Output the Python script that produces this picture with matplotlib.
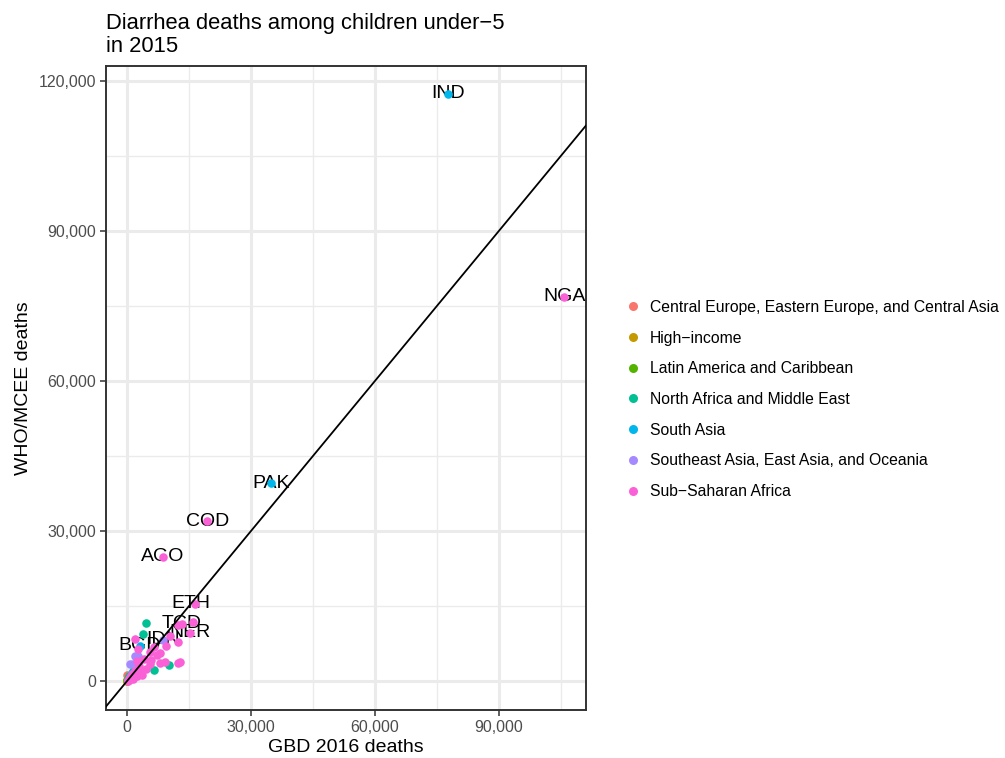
import matplotlib
matplotlib.use("Agg")
import matplotlib.pyplot as plt
from matplotlib.ticker import FuncFormatter, MultipleLocator
from matplotlib.lines import Line2D

plt.rcParams["font.family"] = ["Liberation Sans", "DejaVu Sans"]

regions = [
    "Central Europe, Eastern Europe, and Central Asia",
    "High\u2212income",
    "Latin America and Caribbean",
    "North Africa and Middle East",
    "South Asia",
    "Southeast Asia, East Asia, and Oceania",
    "Sub\u2212Saharan Africa",
]
region_colors = ["#F8766D", "#C49A00", "#53B400", "#00C094", "#00B6EB", "#A58AFF", "#FB61D7"]

# deaths in thousands: GBD 2016 (x) and WHO/MCEE (y), one list per region
ceeca_gbd = [0.0, 0.2, 0.1, 0.4]
ceeca_who = [1.3, 0.5, 0.2, 0.9]

highinc_gbd = [0.0, 0.05]
highinc_who = [0.0, 0.02]

latam_gbd = [0.3, 0.5, 0.1, 0.8]
latam_who = [0.4, 0.9, 0.2, 0.6]

nafme_gbd = [4.6, 3.8, 10.2, 6.6, 0.5, 1.5, 0.2]
nafme_who = [11.7, 9.5, 3.3, 2.3, 1.0, 2.0, 0.3]

sasia_gbd = [77.8, 34.8, 3.1, 0.6, 1.1]
sasia_who = [117.5, 39.6, 7.0, 0.8, 1.6]

seaeao_gbd = [8.8, 1.9, 1.5, 2.6, 0.8, 1.0, 0.3]
seaeao_who = [8.3, 5.0, 3.4, 5.0, 3.4, 0.6, 0.2]

ssa_gbd = [105.8, 19.4, 8.6, 16.4, 13.2, 15.2,
           12.4, 16.0, 12.4, 1.9, 2.7, 5.6, 8.0, 5.8, 8.0, 12.4, 7.2, 5.6,
           3.6, 0.7, 3.0, 2.0, 1.2, 0.5, 0.2, 4.5, 2.5, 1.5, 4.0, 6.5,
           10.5, 9.5, 9.2, 12.8, 2.3, 3.3]
ssa_who = [76.9, 32.0, 24.9, 15.5, 11.5, 9.7,
           11.2, 11.9, 7.9, 8.5, 6.5, 5.9, 5.6, 4.2, 3.7, 3.7, 5.2, 3.4,
           1.2, 0.9, 3.0, 2.0, 1.5, 0.3, 0.1, 2.5, 4.0, 0.5, 4.5, 6.8,
           9.0, 7.0, 3.9, 3.9, 1.0, 2.0]

region_gbd = [ceeca_gbd, highinc_gbd, latam_gbd, nafme_gbd, sasia_gbd, seaeao_gbd, ssa_gbd]
region_who = [ceeca_who, highinc_who, latam_who, nafme_who, sasia_who, seaeao_who, ssa_who]

# labelled countries
label_codes = ["IND", "NGA", "PAK", "COD", "AGO", "ETH", "TCD", "NER", "IDN", "BGD"]
label_gbd = [77.8, 105.8, 34.8, 19.4, 8.6, 15.4, 13.2, 15.2, 8.8, 3.1]
label_who = [117.5, 76.9, 39.6, 32.0, 24.9, 15.5, 11.5, 9.7, 8.3, 7.0]

x_ticks = [0, 30000, 60000, 90000]
y_ticks = [0, 30000, 60000, 90000, 120000]

fig = plt.figure(figsize=(10.05, 7.58), dpi=100)
ax = fig.add_axes([106 / 1005, 48 / 758, 480 / 1005, 644 / 758])
ax.set_facecolor("white")

for name, col, gx, gy in zip(regions, region_colors, region_gbd, region_who):
    ax.scatter([v * 1000 for v in gx], [v * 1000 for v in gy], s=38, color=col,
               linewidths=0, zorder=3, label=name)

for code, gx, gy in zip(label_codes, label_gbd, label_who):
    ax.text(gx * 1000, gy * 1000, code, ha="center", va="center",
            fontsize=14, color="black", zorder=2.5)

ax.axline((0, 0), slope=1, color="black", lw=1.3, zorder=4)

ax.set_xlim(-5100, 111100)
ax.set_ylim(-5800, 123000)
ax.set_xticks(x_ticks)
ax.set_yticks(y_ticks)
ax.xaxis.set_minor_locator(MultipleLocator(15000))
ax.yaxis.set_minor_locator(MultipleLocator(15000))
fmt = FuncFormatter(lambda v, p: f"{int(v):,}")
ax.xaxis.set_major_formatter(fmt)
ax.yaxis.set_major_formatter(fmt)

ax.grid(True, which="major", color="#EBEBEB", lw=2.2, zorder=0)
ax.grid(True, which="minor", color="#EBEBEB", lw=1.0, zorder=0)
ax.set_axisbelow(True)
ax.tick_params(which="major", length=4, width=1.1, color="#333333",
               labelsize=11.5, labelcolor="#4D4D4D", pad=3)
ax.tick_params(which="minor", length=0)
for sp in ax.spines.values():
    sp.set_color("#333333")
    sp.set_linewidth(1.4)

ax.set_xlabel("GBD 2016 deaths", fontsize=14, labelpad=3)
ax.set_ylabel("WHO/MCEE deaths", fontsize=14, labelpad=5)
fig.text(106 / 1005, 1 - 52 / 758, "Diarrhea deaths among children under\u22125\nin 2015",
         fontsize=15.8, ha="left", va="baseline", linespacing=1.12)

handles = [Line2D([], [], marker="o", linestyle="none", markersize=6.5,
                  markerfacecolor=c, markeredgewidth=0) for c in region_colors]
fig.legend(handles, regions, loc="upper left", bbox_to_anchor=(617 / 1005, 1 - 292 / 758),
           frameon=False, fontsize=11.3, labelspacing=1.0, handlelength=1.0,
           handletextpad=0.6, borderpad=0)

fig.savefig("out.png", dpi=100, facecolor="white")
